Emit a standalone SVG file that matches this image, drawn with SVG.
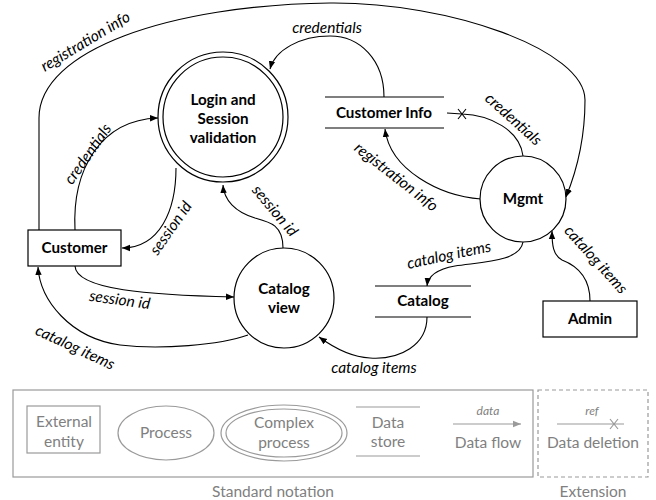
<svg xmlns="http://www.w3.org/2000/svg" width="656" height="500" viewBox="0 0 656 500">
<defs>
<style>
.n{fill:#fff;stroke:#000;stroke-width:1.2}
.ds{stroke:#000;stroke-width:1.2;fill:none}
.t{font-family:Lato,"Liberation Sans",sans-serif;font-weight:bold;font-size:15.2px;text-anchor:middle;fill:#000}
.c{fill:none;stroke:#000;stroke-width:1.1}
.l{font-family:Lato,"Liberation Sans",sans-serif;font-style:italic;font-size:15.5px;text-anchor:middle;fill:#000}
.g{fill:none;stroke:#9a9a9a;stroke-width:1.2}
.gt{font-family:Lato,"Liberation Sans",sans-serif;font-size:15.5px;text-anchor:middle;fill:#808080}
.gi{font-family:Lato,"Liberation Sans",sans-serif;font-style:italic;font-size:12px;text-anchor:middle;fill:#808080}
</style>
<marker id="a" viewBox="0 0 10 10" refX="10" refY="5" markerWidth="8" markerHeight="8" markerUnits="userSpaceOnUse" orient="auto"><path d="M0,1 L10,5 L0,9 Z" fill="#000"/></marker>
<marker id="ag" viewBox="0 0 10 10" refX="10" refY="5" markerWidth="8" markerHeight="8" markerUnits="userSpaceOnUse" orient="auto"><path d="M0,1 L10,5 L0,9 Z" fill="#9a9a9a"/></marker>
</defs>

<g id="connectors">
<path class="c" marker-end="url(#a)" d="M39 230 L39 118 C39 50 170 5 330 3 C450 2 585 50 585 100 C585 140 575 175 566 197"/>
<text class="l" transform="translate(88 46) rotate(-31)">registration info</text>
<path class="c" marker-end="url(#a)" d="M384 97 C384 60 360 36 330 36 C300 36 275 50 270 69"/>
<text class="l" x="327" y="33">credentials</text>
<path class="c" marker-end="url(#a)" d="M75 230 C72 170 100 120 158 118"/>
<text class="l" transform="translate(92 157) rotate(-55)">credentials</text>
<path class="c" marker-end="url(#a)" d="M176 168 C176 210 160 248 122 248"/>
<text class="l" transform="translate(175 231) rotate(-55)">session id</text>
<path class="c" marker-end="url(#a)" d="M283 248 C283 225 270 222 255 218 C235 212 224 200 223 185"/>
<text class="l" transform="translate(271 214) rotate(50)">session id</text>
<path class="c" marker-end="url(#a)" d="M75 266 C76 290 150 295 234 297"/>
<text class="l" transform="translate(119 305) rotate(8)">session id</text>
<path class="c" marker-end="url(#a)" d="M248 335 C220 345 160 350 120 345 C70 338 40 300 38 267"/>
<text class="l" transform="translate(73 352) rotate(25)">catalog items</text>
<path class="c" marker-end="url(#a)" d="M427 317 C427 345 400 360 370 358 C350 357 330 345 319 337"/>
<text class="l" x="374" y="373">catalog items</text>
<path class="c" marker-end="url(#a)" d="M523 242 C520 262 480 262 455 266 C438 269 428 276 427 286"/>
<text class="l" transform="translate(450 260) rotate(-12)">catalog items</text>
<path class="c" marker-end="url(#a)" d="M590 301 C590 275 575 265 562 260 C553 255 552 245 552 231"/>
<text class="l" transform="translate(592 263) rotate(48)">catalog items</text>
<path class="c" d="M523 156 C520 130 490 115 462 114 L447 113"/>
<path class="c" d="M458 109 L466 119 M466 109 L458 119"/>
<text class="l" transform="translate(510 123) rotate(42)">credentials</text>
<path class="c" marker-end="url(#a)" d="M481 199 C440 196 390 170 385 129"/>
<text class="l" transform="translate(393 181) rotate(38)">registration info</text>
</g>

<g id="login">
<circle class="n" cx="223" cy="117" r="65"/>
<circle class="n" cx="223" cy="117" r="60"/>
<text class="t" x="223" y="105">Login and</text>
<text class="t" x="223" y="124">Session</text>
<text class="t" x="223" y="143">validation</text>
</g>
<g id="customer">
<rect class="n" x="28" y="230" width="93" height="36"/>
<text class="t" x="74.5" y="253">Customer</text>
</g>
<g id="catalogview">
<circle class="n" cx="284" cy="298" r="50"/>
<text class="t" x="284" y="294">Catalog</text>
<text class="t" x="284" y="313">view</text>
</g>
<g id="customerinfo">
<path class="ds" d="M325 97 H444 M325 128 H444"/>
<text class="t" x="384" y="118">Customer Info</text>
</g>
<g id="mgmt">
<circle class="n" cx="523" cy="199" r="43"/>
<text class="t" x="523" y="204">Mgmt</text>
</g>
<g id="catalog">
<path class="ds" d="M375 286 H471 M375 317 H471"/>
<text class="t" x="423" y="306">Catalog</text>
</g>
<g id="admin">
<rect class="n" x="543" y="301" width="94" height="36"/>
<text class="t" x="590" y="324">Admin</text>
</g>

<g id="legend">
<rect class="g" x="13" y="390" width="520" height="87"/>
<rect class="g" x="538" y="390" width="110" height="87" stroke-dasharray="4 3"/>
<rect class="g" x="27" y="406" width="73" height="47"/>
<text class="gt" x="64" y="427">External</text>
<text class="gt" x="64" y="447">entity</text>
<ellipse class="g" cx="166" cy="433" rx="48" ry="27"/>
<text class="gt" x="166" y="438">Process</text>
<ellipse class="g" cx="284" cy="433" rx="63" ry="28"/>
<ellipse class="g" cx="284" cy="433" rx="58" ry="24"/>
<text class="gt" x="284" y="428">Complex</text>
<text class="gt" x="284" y="448">process</text>
<path class="g" d="M356 407 H420 M356 456 H420"/>
<text class="gt" x="388" y="428">Data</text>
<text class="gt" x="388" y="447">store</text>
<path class="g" marker-end="url(#ag)" d="M453 424 H521"/>
<text class="gi" x="488" y="415">data</text>
<text class="gt" x="488" y="448">Data flow</text>
<path class="g" d="M557 424 H624 M610 419 L618 429 M618 419 L610 429"/>
<text class="gi" x="592" y="415">ref</text>
<text class="gt" x="593" y="448">Data deletion</text>
<text class="gt" x="273" y="497">Standard notation</text>
<text class="gt" x="593" y="497">Extension</text>
</g>
</svg>
